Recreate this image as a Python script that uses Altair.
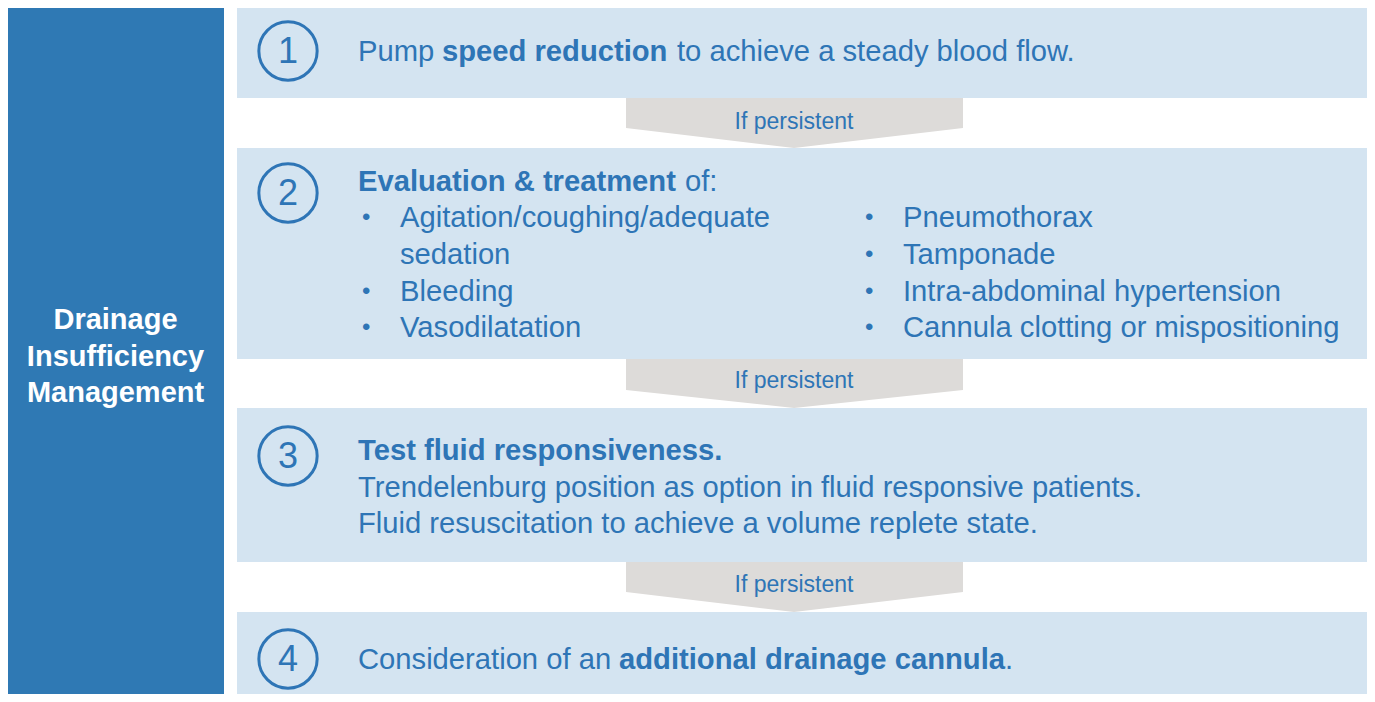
import altair as alt
import pandas as pd

# ---------------- content ----------------
title_lines = ["Drainage", "Insufficiency", "Management"]
step_numbers = ["1", "2", "3", "4"]
connector_label = "If persistent"

# text segments: (text, bold)
seg_text = [
    "Pump", "speed reduction", "to achieve a steady blood flow.",
    "Evaluation & treatment", "of:",
    "Agitation/coughing/adequate", "sedation", "Bleeding", "Vasodilatation",
    "Pneumothorax", "Tamponade", "Intra-abdominal hypertension",
    "Cannula clotting or mispositioning",
    "Test fluid responsiveness.",
    "Trendelenburg position as option in fluid responsive patients.",
    "Fluid resuscitation to achieve a volume replete state.",
    "Consideration of an", "additional drainage cannula", ".",
]
seg_bold = [
    False, True, False,
    True, False,
    False, False, False, False,
    False, False, False, False,
    True, False, False,
    False, True, False,
]

# ---------------- layout (pixel coordinates of the page) ----------------
seg_x = [358, 442, 677, 358, 685, 400, 400, 400, 400, 903, 903, 903, 903,
         358, 358, 358, 358, 619, 1005]
seg_y = [52, 52, 52, 182, 182, 218, 255, 292, 328, 218, 255, 292, 328,
         451, 488, 524, 660, 660, 660]

bullet_x = [362, 362, 362, 865, 865, 865, 865]
bullet_y = [218, 292, 328, 218, 255, 292, 328]

box_y1 = [5, 148, 408, 612]
box_y2 = [98, 359, 562, 702]
circle_y = [51, 193, 456, 659]

arrow_top = [98, 359, 562]
arrow_mid = [128, 390, 592]
arrow_tip = [148, 408, 612]
arrow_text_y = [122, 381, 585]

title_y = [320, 357, 393]

BLUE = "#2e75b6"
BAR = "#2f79b4"
BOX = "#d4e4f1"
GRAY = "#dddbd9"
FONT = "Liberation Sans"

W, H = 1359, 686
xs = alt.Scale(domain=[8, 8 + W], nice=False, zero=False)
ys = alt.Scale(domain=[8, 8 + H], nice=False, zero=False, reverse=True)


def X(f="x"):
    return alt.X(f"{f}:Q", scale=xs, axis=None)


def Y(f="y"):
    return alt.Y(f"{f}:Q", scale=ys, axis=None)


# left bar
bar_df = pd.DataFrame({"x": [7], "x2": [224], "y": [5], "y2": [702]})
bar = alt.Chart(bar_df).mark_rect(color=BAR, clip=True).encode(
    x=X(), x2="x2:Q", y=Y(), y2="y2:Q")

# step boxes
box_df = pd.DataFrame({"x": [237] * 4, "x2": [1375] * 4, "y": box_y1, "y2": box_y2})
boxes = alt.Chart(box_df).mark_rect(color=BOX, clip=True).encode(
    x=X(), x2="x2:Q", y=Y(), y2="y2:Q")

# arrows
arrow_rows = []
for i in range(3):
    arrow_rows += [
        {"a": i, "x": 626, "y": arrow_mid[i], "y2": arrow_top[i]},
        {"a": i, "x": 794, "y": arrow_tip[i], "y2": arrow_top[i]},
        {"a": i, "x": 963, "y": arrow_mid[i], "y2": arrow_top[i]},
    ]
arrow_df = pd.DataFrame(arrow_rows)
arrows = alt.Chart(arrow_df).mark_area(color=GRAY, opacity=1, interpolate="linear").encode(
    x=X(), y=Y(), y2="y2:Q", detail="a:N")

arrow_txt_df = pd.DataFrame({"x": [794] * 3, "y": arrow_text_y, "t": [connector_label] * 3})
arrow_txt = alt.Chart(arrow_txt_df).mark_text(
    font=FONT, fontSize=23, color=BLUE, align="center", baseline="middle").encode(
    x=X(), y=Y(), text="t:N")

# circles with numbers
circ_df = pd.DataFrame({"x": [288] * 4, "y": circle_y, "t": step_numbers})
circles = alt.Chart(circ_df).mark_point(
    shape="circle", filled=False, size=3400, strokeWidth=3, color=BLUE, opacity=1).encode(
    x=X(), y=Y())
numbers = alt.Chart(circ_df).mark_text(
    font=FONT, fontSize=36, color=BLUE, align="center", baseline="middle", dy=1).encode(
    x=X(), y=Y(), text="t:N")

# title
title_df = pd.DataFrame({"x": [115.5] * 3, "y": title_y, "t": title_lines})
title = alt.Chart(title_df).mark_text(
    font=FONT, fontSize=29, fontWeight="bold", color="white",
    align="center", baseline="middle").encode(x=X(), y=Y(), text="t:N")

# text segments
seg_df = pd.DataFrame({"x": seg_x, "y": seg_y, "t": seg_text, "b": seg_bold})
reg = alt.Chart(seg_df[~seg_df.b]).mark_text(
    font=FONT, fontSize=29.2, color=BLUE, align="left", baseline="middle").encode(
    x=X(), y=Y(), text="t:N")
bold = alt.Chart(seg_df[seg_df.b]).mark_text(
    font=FONT, fontSize=29.2, fontWeight="bold", color=BLUE, align="left",
    baseline="middle").encode(x=X(), y=Y(), text="t:N")

bul_df = pd.DataFrame({"x": bullet_x, "y": bullet_y, "t": ["•"] * len(bullet_x)})
bullets = alt.Chart(bul_df).mark_text(
    font=FONT, fontSize=24, color=BLUE, align="left", baseline="middle").encode(
    x=X(), y=Y(), text="t:N")

chart = alt.layer(bar, boxes, arrows, arrow_txt, circles, numbers, title, reg, bold, bullets).properties(
    width=W, height=H, autosize="none", padding=0, background="white"
).configure_view(strokeWidth=0)

chart.save("out.html", embed_options={"renderer": "svg", "actions": False})
